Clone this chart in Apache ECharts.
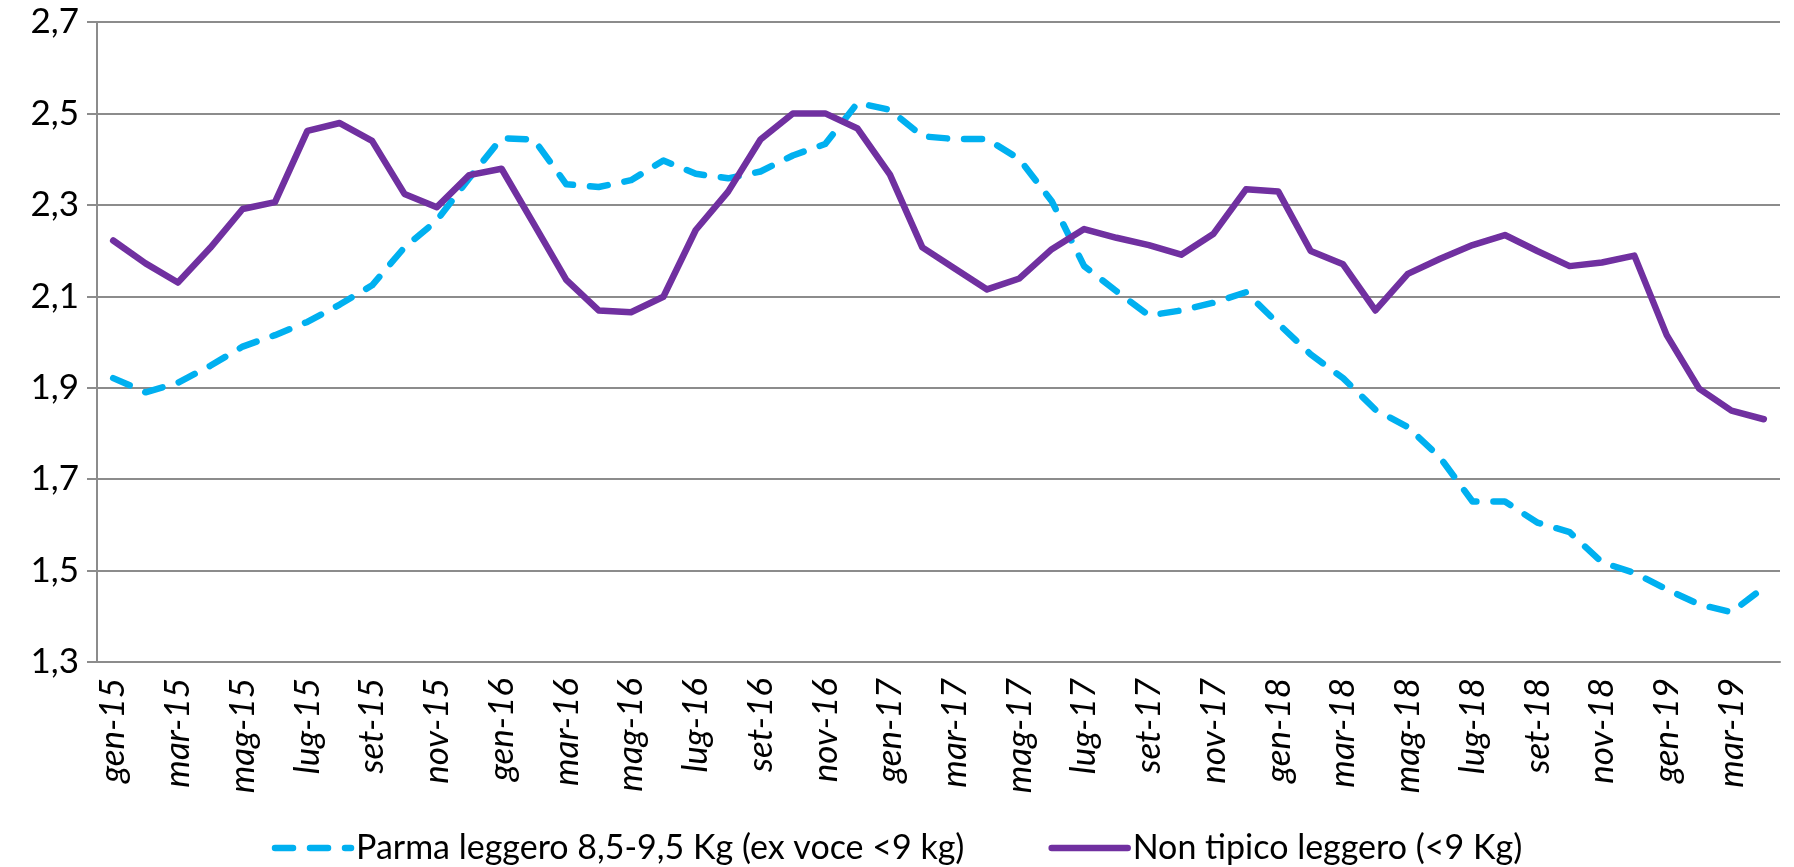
<!DOCTYPE html>
<html>
<head>
<meta charset="utf-8">
<script src="https://cdn.jsdelivr.net/npm/echarts@6/dist/echarts.min.js"></script>
<style>
  html, body { margin: 0; padding: 0; background: #fff; }
  #chart { width: 1794px; height: 867px; }
</style>
</head>
<body>
<div id="chart"></div>
<script>
// month labels (Italian), gen-15 .. apr-19
const monthNames = ['gen', 'feb', 'mar', 'apr', 'mag', 'giu', 'lug', 'ago', 'set', 'ott', 'nov', 'dic'];
const years = ['15', '16', '17', '18', '19'];
const categories = [];
years.forEach(y => monthNames.forEach(m => categories.push(m + '-' + y)));
categories.length = 52;

const yTicks = [1.3, 1.5, 1.7, 1.9, 2.1, 2.3, 2.5, 2.7];

// Parma leggero 8,5-9,5 Kg (ex voce <9 kg)
const parma = [
  1.921, 1.890, 1.911, 1.948, 1.990, 2.015, 2.044, 2.082, 2.124, 2.207,
  2.266, 2.358, 2.446, 2.443, 2.345, 2.339, 2.354, 2.397, 2.368, 2.358,
  2.373, 2.408, 2.433, 2.523, 2.508, 2.450, 2.444, 2.444, 2.400, 2.308,
  2.166, 2.111, 2.058, 2.069, 2.086, 2.109, 2.040, 1.973, 1.921, 1.852,
  1.814, 1.747, 1.651, 1.651, 1.605, 1.584, 1.518, 1.495, 1.459, 1.426,
  1.409, 1.463
];

// Non tipico leggero (<9 Kg)
const nonTipico = [
  2.222, 2.172, 2.130, 2.206, 2.291, 2.306, 2.462, 2.479, 2.440, 2.324,
  2.295, 2.365, 2.379, 2.258, 2.136, 2.069, 2.065, 2.099, 2.245, 2.329,
  2.443, 2.500, 2.500, 2.467, 2.366, 2.207, 2.161, 2.115, 2.139, 2.203,
  2.247, 2.228, 2.212, 2.191, 2.237, 2.334, 2.329, 2.199, 2.170, 2.069,
  2.149, 2.182, 2.212, 2.234, 2.199, 2.166, 2.174, 2.189, 2.015, 1.898,
  1.850, 1.831
];

const font = 'Lato, "Open Sans", sans-serif';
const grey = '#8c8c8c';
const dash = [18, 17];

const chart = echarts.init(document.getElementById('chart'), null, { renderer: 'canvas' });

chart.setOption({
  animation: false,
  grid: { left: 97, right: 14, top: 22, bottom: 205 },
  legend: {
    left: 'center',
    top: 826,
    itemWidth: 76,
    itemHeight: 12,
    itemGap: 84,
    itemStyle: { opacity: 0 },
    lineStyle: { width: 6.5, cap: 'round' },
    textStyle: { fontFamily: font, fontSize: 34, color: '#000' },
    data: ['Parma leggero 8,5-9,5 Kg (ex voce <9 kg)', 'Non tipico leggero (<9 Kg)']
  },
  xAxis: {
    type: 'category',
    data: categories,
    boundaryGap: true,
    axisLine: { lineStyle: { color: grey, width: 2 } },
    axisTick: { interval: 1, length: 10, lineStyle: { color: grey, width: 2 } },
    axisLabel: {
      interval: 1,
      rotate: 90,
      margin: 16,
      fontFamily: font,
      fontStyle: 'italic',
      fontSize: 35,
      color: '#000'
    }
  },
  yAxis: {
    type: 'value',
    min: 1.3,
    max: 2.7,
    axisLine: { show: true, lineStyle: { color: grey, width: 2 } },
    axisTick: { show: true, length: 10, customValues: yTicks, lineStyle: { color: grey, width: 2 } },
    axisLabel: {
      customValues: yTicks,
      margin: 18,
      fontFamily: font,
      fontSize: 35,
      color: '#000',
      formatter: v => v.toFixed(1).replace('.', ',')
    },
    splitLine: { lineStyle: { color: grey, width: 2 } }
  },
  series: [
    {
      name: 'Parma leggero 8,5-9,5 Kg (ex voce <9 kg)',
      type: 'line',
      data: parma,
      symbol: 'none',
      itemStyle: { color: '#00B0F0' },
      lineStyle: { color: '#00B0F0', width: 6.5, type: dash, cap: 'round', join: 'round' }
    },
    {
      name: 'Non tipico leggero (<9 Kg)',
      type: 'line',
      data: nonTipico,
      symbol: 'none',
      itemStyle: { color: '#7030A0' },
      lineStyle: { color: '#7030A0', width: 6.5, cap: 'round', join: 'round' }
    }
  ]
});
</script>
</body>
</html>
